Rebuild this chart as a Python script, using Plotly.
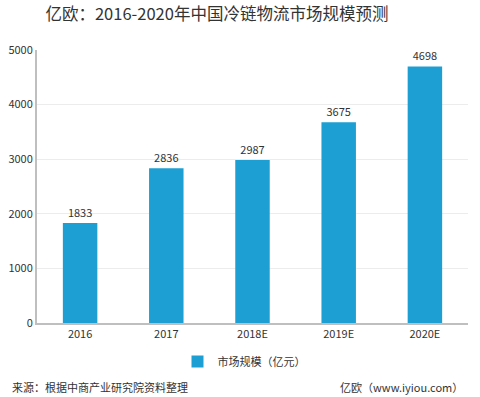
import plotly.graph_objects as go

categories = ["2016", "2017", "2018E", "2019E", "2020E"]
values = [1833, 2836, 2987, 3675, 4698]
series_name = "市场规模（亿元）"
title = "亿欧：2016-2020年中国冷链物流市场规模预测"
source = "来源：根据中商产业研究院资料整理"
credit = "亿欧（www.iyiou.com）"

FONT = "Noto Sans CJK SC, Microsoft YaHei, sans-serif"

fig = go.Figure()
fig.add_trace(go.Bar(
    x=categories, y=values, name=series_name,
    marker=dict(color="#1e9fd3", line=dict(width=0)),
    text=[str(v) for v in values], textposition="outside",
    textfont=dict(size=11, color="#333333", family=FONT),
    cliponaxis=False,
))

fig.update_layout(
    width=480, height=397,
    margin=dict(l=37, r=12, t=50, b=74, autoexpand=False),
    paper_bgcolor="white", plot_bgcolor="white",
    bargap=0.6,
    showlegend=True,
    legend=dict(orientation="h", x=0.326, xanchor="left", y=-0.088, yanchor="top",
                itemwidth=30, font=dict(size=11, color="#333333", family=FONT)),
    title=dict(text=title, x=0.452, xanchor="center", y=0.965, yanchor="middle",
               font=dict(size=16.5, color="#333333", family=FONT)),
    font=dict(family=FONT),
)
fig.update_xaxes(showline=True, linecolor="#bfbfbf", linewidth=2, ticks="", automargin=False,
                 tickfont=dict(size=11, color="#333333", family=FONT), showgrid=False)
fig.update_yaxes(range=[0, 5000], dtick=1000, showline=True, linecolor="#bfbfbf", linewidth=2,
                 gridcolor="#ececec", gridwidth=1, ticks="", zeroline=False, automargin=False,
                 tickfont=dict(size=11, color="#333333", family=FONT))

fig.add_annotation(text=source, xref="paper", yref="paper", x=-0.063, y=-0.236,
                   xanchor="left", yanchor="middle", showarrow=False,
                   font=dict(size=11, color="#333333", family=FONT))
fig.add_annotation(text=credit, xref="paper", yref="paper", x=0.993, y=-0.236,
                   xanchor="right", yanchor="middle", showarrow=False,
                   font=dict(size=11, color="#333333", family=FONT))

fig.write_html("out.html", config={"displayModeBar": False},
               post_script="document.body.style.margin='0';")
